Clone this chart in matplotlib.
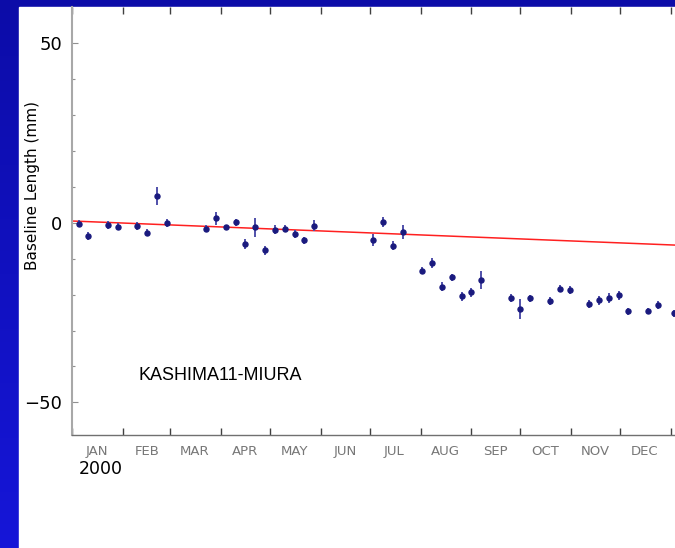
import numpy as np
import matplotlib
matplotlib.use('Agg')
import matplotlib.pyplot as plt
import matplotlib.dates as mdates
from matplotlib.patches import Rectangle
from datetime import datetime, timedelta

# Observation days (offset from 2000-01-01), baseline length change (mm) and 1-sigma error (mm)
obs_day = [4, 10, 22, 28, 40, 46, 52, 58, 82, 88, 94, 100, 106, 112, 118, 124, 130, 136, 142, 148,
           184, 190, 196, 202, 214, 220, 226, 232, 238, 244, 250, 268, 274, 280, 292, 298, 304,
           316, 322, 328, 334, 340, 352, 358, 368]
baseline_mm = [-0.3, -3.6, -0.6, -1.1, -0.9, -2.8, 7.5, -0.1, -1.6, 1.2, -1.3, 0.1, -5.8, -1.3, -7.7,
               -1.9, -1.7, -3.2, -4.9, -0.8, -4.8, 0.2, -6.4, -2.6, -13.3, -11.3, -17.8, -15.2, -20.5,
               -19.4, -16.0, -20.9, -24.0, -21.0, -21.9, -18.3, -18.6, -22.6, -21.6, -20.9, -20.2,
               -24.6, -24.6, -22.8, -25.2]
error_mm = [1.0, 1.1, 1.0, 1.0, 1.2, 1.0, 2.5, 1.2, 1.0, 1.8, 0.8, 1.0, 1.4, 2.6, 1.2, 1.3, 1.0, 1.1,
            0.9, 1.6, 1.6, 1.5, 1.3, 1.9, 1.0, 1.4, 1.2, 1.0, 1.2, 1.2, 2.5, 1.2, 2.7, 1.0, 1.1, 1.1,
            1.1, 1.0, 1.3, 1.3, 1.3, 1.0, 0.9, 1.1, 1.0]

# linear trend: value at 2000-01-01 and rate per year
trend_start = 0.5
trend_rate = -6.65  # mm/yr

months = ['JAN', 'FEB', 'MAR', 'APR', 'MAY', 'JUN', 'JUL', 'AUG', 'SEP', 'OCT', 'NOV', 'DEC']
station_label = 'KASHIMA11-MIURA'

base = datetime(2000, 1, 1)
dates = [base + timedelta(days=d) for d in obs_day]

W, H = 675, 548
fig = plt.figure(figsize=(W / 100, H / 100), dpi=100)

# blue gradient backdrop with white panel
bg = fig.add_axes([0, 0, 1, 1], zorder=-10)
grad = np.linspace(0, 1, 256).reshape(-1, 1)
top_col = np.array([0x0c, 0x0c, 0xa8]) / 255
bot_col = np.array([0x16, 0x16, 0xd8]) / 255
img = top_col + grad[:, :, None] * (bot_col - top_col)
bg.imshow(np.repeat(img, 2, axis=1), aspect='auto', extent=[0, 1, 0, 1], origin='upper')
bg.add_patch(Rectangle((19 / W, 0), 1, 1 - 7 / H, transform=bg.transAxes, color='white'))
bg.set_xlim(0, 1)
bg.set_ylim(0, 1)
bg.axis('off')

ax = fig.add_axes([72 / W, (H - 435) / H, (682 - 72) / W, (435 - 7) / H])
ax.patch.set_alpha(0)

# trend line
t0 = mdates.date2num(base)
tx = np.array([t0, t0 + 380])
ax.plot(tx, trend_start + trend_rate * (tx - t0) / 365.25, color='#ff2020', lw=1.1, zorder=2)

ax.errorbar(dates, baseline_mm, yerr=error_mm, fmt='o', ms=3.6, color='#1a1a7e',
            ecolor='#5050aa', elinewidth=1.4, capsize=0, zorder=3)

ax.set_xlim(t0, t0 + (682 - 72) / 1.6366)
ax.set_ylim(-59.1, 60.1)

ax.xaxis.set_major_locator(mdates.MonthLocator())
ax.xaxis.set_major_formatter(plt.NullFormatter())
mid_month = [mdates.date2num(datetime(2000, m, 16)) for m in range(1, 13)]
ax.set_xticks(mid_month, minor=True)
ax.set_xticklabels(months, minor=True)
ax.tick_params(axis='x', which='major', direction='in', length=5, width=1, color='#404040',
               top=True, bottom=True)
ax.tick_params(axis='x', which='minor', length=0, pad=7.5, labelsize=9.5, labelcolor='#777777')

ax.set_yticks([-50, 0, 50])
ax.set_yticklabels(['\u221250', '0', '50'])
ax.set_yticks(np.arange(-50, 60, 10), minor=True)
ax.tick_params(axis='y', which='major', direction='in', length=4, width=0.8, color='#909090',
               labelsize=13, pad=7)
ax.tick_params(axis='y', which='minor', direction='in', length=2, width=0.8, color='#909090')

ax.spines['top'].set_visible(False)
ax.spines['right'].set_visible(False)
ax.spines['left'].set_color('#a8a8a8')
ax.spines['left'].set_linewidth(1.5)
ax.spines['bottom'].set_color('#707070')
ax.spines['bottom'].set_linewidth(1.0)

ax.set_ylabel('Baseline Length (mm)', fontsize=11)
ax.yaxis.set_label_coords(-0.053, 0.582)

ax.text(t0 + (138 - 72) / 1.6366, -42.5, station_label, fontsize=13, va='center', ha='left',
        family=['Liberation Sans', 'DejaVu Sans'])

fig.text(101 / W, 1 - 469 / H, '2000', fontsize=12.5, ha='center', va='center')

fig.savefig('out.png', dpi=100)
